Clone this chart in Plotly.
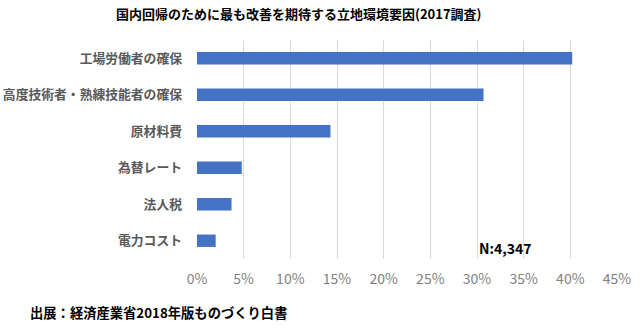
import plotly.graph_objects as go

categories = ["工場労働者の確保", "高度技術者・熟練技能者の確保", "原材料費", "為替レート", "法人税", "電力コスト"]
values = [40.2, 30.7, 14.3, 4.8, 3.7, 2.0]
tick_vals = [0, 5, 10, 15, 20, 25, 30, 35, 40, 45]
tick_text = [f"{v}%" for v in tick_vals]
title_text = "国内回帰のために最も改善を期待する立地環境要因(2017調査)"
n_text = "N:4,347"
source_text = "出展：経済産業省2018年版ものづくり白書"

FONT = "Noto Sans CJK JP"
W, H = 640, 329
ML, MR, MT, MB = 197, 23, 40, 70
PW, PH = W - ML - MR, H - MT - MB


def px(x):
    return (x - ML) / PW


def py(y):
    return (H - MB - y) / PH


fig = go.Figure(go.Bar(
    x=values, y=categories, orientation="h",
    marker=dict(color="#4472C4", line=dict(width=0)),
    width=0.34,
))

fig.update_layout(
    width=W, height=H,
    margin=dict(l=ML, r=MR, t=MT, b=MB),
    paper_bgcolor="white", plot_bgcolor="white",
    font=dict(family=FONT),
    showlegend=False,
    xaxis=dict(range=[0, 45], tickvals=tick_vals, ticktext=tick_text,
               showgrid=True, gridcolor="#D9D9D9", gridwidth=1,
               zeroline=False, showline=False, ticks="", ticklabelstandoff=10,
               automargin=False,
               tickfont=dict(size=14, color="#7F7F7F", family=FONT)),
    yaxis=dict(autorange="reversed", showgrid=False, zeroline=False,
               showline=False, ticks="", ticklabelstandoff=14,
               automargin=False,
               tickvals=categories,
               ticktext=["<b>" + c + "</b>" for c in categories],
               tickfont=dict(size=12.8, color="#595959", family=FONT)),
    annotations=[
        dict(text="<b>" + title_text + "</b>", x=px(299), y=py(14),
             xref="paper", yref="paper", xanchor="center", yanchor="middle",
             showarrow=False, font=dict(size=13, color="black", family=FONT)),
        dict(text="<b>" + n_text + "</b>", x=px(505), y=py(248),
             xref="paper", yref="paper", xanchor="center", yanchor="middle",
             showarrow=False, font=dict(size=14, color="black", family=FONT)),
        dict(text="<b>" + source_text + "</b>", x=px(28), y=py(312),
             xref="paper", yref="paper", xanchor="left", yanchor="middle",
             showarrow=False, font=dict(size=13.3, color="black", family=FONT)),
    ],
)

fig.write_html("out.html")
